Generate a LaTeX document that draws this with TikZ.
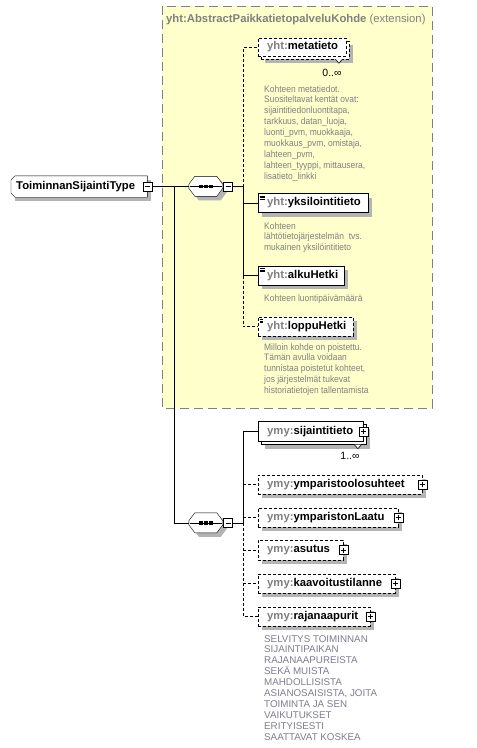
\documentclass[tikz,border=0pt]{standalone}
\usepackage{fontspec}
\setmainfont{Liberation Sans}
\newfontfamily\docfont[FakeStretch=0.9]{Liberation Sans}
\usetikzlibrary{shadows,backgrounds}

\definecolor{grpfill}{RGB}{255,255,204}
\definecolor{grpline}{RGB}{128,128,128}
\definecolor{pfxgray}{RGB}{128,128,128}
\definecolor{docgray}{RGB}{128,128,128}
\definecolor{capgray}{RGB}{125,125,145}
\definecolor{shdgray}{RGB}{180,180,180}

\newcommand{\pfx}[1]{\textcolor{pfxgray}{#1:}}

% octagon of a sequence compositor, drawn round a named node
\newcommand{\seqshape}[1]{%
  \fill[shdgray] ([xshift=10pt,yshift=-4pt]#1.north west) -- ++(22pt,0pt) -- ++(6pt,-8pt) -- ++(0pt,-4pt)
    -- ++(-6pt,-8pt) -- ++(-22pt,0pt) -- ++(-6pt,8pt) -- ++(0pt,4pt) -- cycle;
  \draw[fill=white] ([xshift=6pt]#1.north west) -- ++(22pt,0pt) -- ++(6pt,-8pt) -- ++(0pt,-4pt)
    -- ++(-6pt,-8pt) -- ++(-22pt,0pt) -- ++(-6pt,8pt) -- ++(0pt,4pt) -- cycle;
  \draw ([xshift=1pt]#1.west) -- ([xshift=-1pt]#1.east);
  \foreach \k in {-1,0,1}
    \fill ([xshift=\k*5pt]#1.center) +(-1.6pt,-1.6pt) rectangle +(1.6pt,1.6pt);}

\tikzset{
  elem/.style={draw, fill=white, anchor=west, text width=#1, minimum height=19pt,
    inner xsep=0pt, inner ysep=0pt, align=left, font=\fontsize{11.3}{12}\selectfont\bfseries},
  opt/.style={dash pattern=on 3pt off 2pt},
  shd/.style={general shadow={fill=shdgray, shadow xshift=4pt, shadow yshift=-4pt}},
  simple/.style={path picture={\foreach \k in {0,1,2}
      \draw[line width=0.5pt] ([xshift=2pt,yshift={-(2.5+1.6*\k)*1pt}]path picture bounding box.north west) -- ++(4.5pt,0pt);}},
  pmbox/.style={draw, fill=white, minimum size=9pt, inner sep=0pt, line width=0.8pt},
  minus/.style={pmbox, path picture={
      \draw[line width=0.8pt] ([xshift=2pt]path picture bounding box.west) -- ([xshift=-2pt]path picture bounding box.east);}},
  plus/.style={pmbox, path picture={
      \draw[line width=0.8pt] ([xshift=2pt]path picture bounding box.west) -- ([xshift=-2pt]path picture bounding box.east);
      \draw[line width=0.8pt] ([yshift=-2pt]path picture bounding box.north) -- ([yshift=2pt]path picture bounding box.south);}},
  seqbox/.style={minimum width=34pt, minimum height=20pt, inner sep=0pt},
  rootbox/.style={anchor=west, text width=136pt, minimum height=21pt, inner sep=0pt, align=left,
    font=\fontsize{11.3}{12}\selectfont\bfseries},
  doc/.style={anchor=north west, align=left, inner sep=0pt, text=docgray, font=\docfont\fontsize{9.4}{10.9}\selectfont},
  card/.style={inner sep=0pt, font=\fontsize{10.5}{11}\selectfont},
  notch/.style={fill=white, line width=0.6pt},
}

\begin{document}
\begin{tikzpicture}[x=1pt, y=-1pt, line width=1pt]
\useasboundingbox (0,0) rectangle (477,748);
\begin{pgfonlayer}{background}
  \fill[white] (0,0) rectangle (477,748);
\end{pgfonlayer}

% extension group
\draw[grpline, fill=grpfill, dash pattern=on 9pt off 5pt] (162,6) rectangle (432,408);
\node[anchor=west, inner sep=0pt, text=pfxgray, font=\fontsize{11.3}{12}\selectfont] (grp) at (166,20)
  {\textbf{yht:AbstractPaikkatietopalveluKohde} (extension)};

% type and sequences
\node[rootbox] (root) at (11,186.5) {\hspace*{5pt}ToiminnanSijaintiType};
\begin{pgfonlayer}{background}
  \fill[shdgray] ([xshift=4pt,yshift=-4pt]root.north west) rectangle ([xshift=4pt,yshift=-4pt]root.south east);
  \draw[fill=white] ([xshift=4pt]root.north west) -- (root.north east) -- (root.south east)
    -- ([xshift=4pt]root.south west) -- ([yshift=4pt]root.south west) -- ([yshift=-4pt]root.north west) -- cycle;
\end{pgfonlayer}
\node[minus] (root-m) at (root.east) {};
\coordinate (j0) at (174,186.5);

\node[seqbox] (seq1) at (206,186.5) {};
\seqshape{seq1}
\node[minus] (seq1-m) at ([xshift=5pt]seq1.east) {};
\node[seqbox] (seq2) at (206,523) {};
\seqshape{seq2}
\node[minus] (seq2-m) at ([xshift=5pt]seq2.east) {};
\coordinate (b1) at (243,186.5);
\coordinate (b2) at (243,523);

% yht elements
\node[elem=88pt, opt, minimum height=18pt, shd] (meta-b) at (261,50) {};
\node[elem=88pt, opt, minimum height=18pt] (meta) at (258,47) {\hspace*{9pt}\pfx{yht}metatieto};
\draw[notch] ([xshift=-14pt]meta-b.south east) -- ++(3.5pt,-4pt) -- ++(3.5pt,4pt);
\node[card] (meta-c) at (332,72.5) {0..∞};
\node[doc] (meta-d) at (264,85) {Kohteen metatiedot.\\Suositeltavat kentät ovat:\\sijaintitiedonluontitapa,\\
  tarkkuus, datan\_luoja,\\luonti\_pvm, muokkaaja,\\muokkaus\_pvm, omistaja,\\lahteen\_pvm,\\
  lahteen\_tyyppi, mittausera,\\lisatieto\_linkki};

\node[elem=110pt, shd, simple] (yksi) at (258,203) {\hspace*{9pt}\pfx{yht}yksilointitieto};
\node[doc] (yksi-d) at (264,222) {Kohteen\\lähtötietojärjestelmän\ \ tvs.\\mukainen yksilöintitieto};

\node[elem=86pt, shd, simple] (alku) at (258,275.5) {\hspace*{9pt}\pfx{yht}alkuHetki};
\node[doc] (alku-d) at (264,294) {Kohteen luontipäivämäärä};

\node[elem=95pt, opt, shd, simple] (loppu) at (258,326.5) {\hspace*{9pt}\pfx{yht}loppuHetki};
\node[doc] (loppu-d) at (264,343) {Milloin kohde on poistettu.\\Tämän avulla voidaan\\tunnistaa poistetut kohteet,\\
  jos järjestelmät tukevat\\historiatietojen tallentamista};

% ymy elements
\node[elem=105pt, minimum height=20pt, shd] (sij-b) at (261,434.5) {};
\node[elem=105pt, minimum height=20pt] (sij) at (258,431.5) {\hspace*{9pt}\pfx{ymy}sijaintitieto};
\node[plus] (sij-p) at (sij.east) {};
\draw[notch] ([xshift=-12pt]sij-b.south east) -- ++(3.5pt,-4pt) -- ++(3.5pt,4pt);
\node[card] (sij-c) at (350,455.5) {1..∞};

\node[elem=164pt, opt, shd] (ympo) at (258,484.5) {\hspace*{9pt}\pfx{ymy}ymparistoolosuhteet};
\node[plus] (ympo-p) at (ympo.east) {};
\node[elem=140pt, opt, shd] (ympl) at (258,517.5) {\hspace*{9pt}\pfx{ymy}ymparistonLaatu};
\node[plus] (ympl-p) at (ympl.east) {};
\node[elem=85pt, opt, minimum height=20pt, shd] (asu) at (258,550) {\hspace*{9pt}\pfx{ymy}asutus};
\node[plus] (asu-p) at (asu.east) {};
\node[elem=137pt, opt, shd] (kaav) at (258,583.5) {\hspace*{9pt}\pfx{ymy}kaavoitustilanne};
\node[plus] (kaav-p) at (kaav.east) {};
\node[elem=112pt, opt, shd] (raja) at (258,616.5) {\hspace*{9pt}\pfx{ymy}rajanaapurit};
\node[plus] (raja-p) at (raja.east) {};
\node[doc, text=capgray, font=\fontsize{9.8}{10.9}\selectfont] (raja-d) at (264,635)
  {SELVITYS TOIMINNAN\\SIJAINTIPAIKAN\\RAJANAAPUREISTA\\SEKÄ MUISTA\\MAHDOLLISISTA\\
   ASIANOSAISISTA, JOITA\\TOIMINTA JA SEN\\VAIKUTUKSET\\ERITYISESTI\\SAATTAVAT KOSKEA};

% connectors
\draw (root-m.east) -- (seq1.west);
\draw (j0) -- (j0 |- seq2.west) -- (seq2.west);
\draw (seq1-m.east) -- (b1);
\draw (seq2-m.east) -- (b2);
\draw[opt] (b1) -- (b1 |- meta.west) -- (meta.west);
\draw (b1) -- (b1 |- alku.west) -- (alku.west);
\draw (b1 |- yksi.west) -- (yksi.west);
\draw[opt] (b1 |- alku.west) -- (b1 |- loppu.west) -- (loppu.west);
\draw (b2) -- (b2 |- sij.west) -- (sij.west);
\draw[opt] (b2) -- (b2 |- raja.west) -- (raja.west);
\draw[opt] (b2 |- ympo.west) -- (ympo.west);
\draw[opt] (b2 |- ympl.west) -- (ympl.west);
\draw[opt] (b2 |- asu.west) -- (asu.west);
\draw[opt] (b2 |- kaav.west) -- (kaav.west);
\end{tikzpicture}
\end{document}
